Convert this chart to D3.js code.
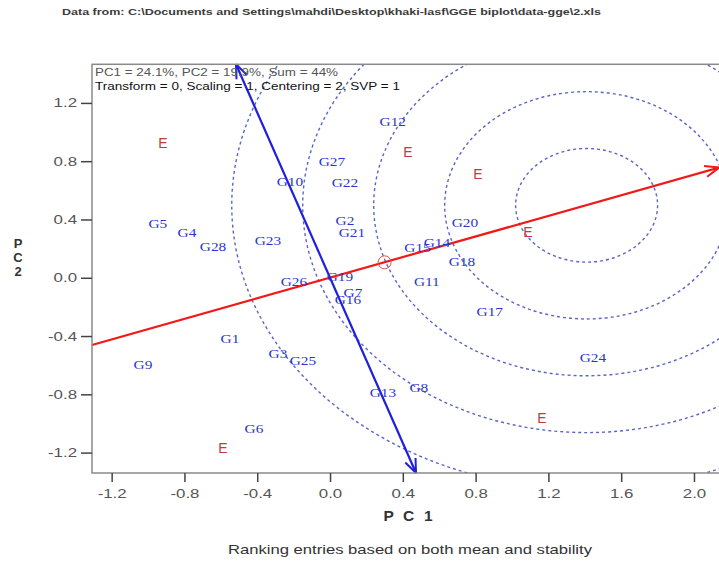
<!DOCTYPE html>
<html><head><meta charset="utf-8">
<script src="https://cdn.jsdelivr.net/npm/d3@7/dist/d3.min.js"></script>
<style>body{margin:0;background:#fff} svg{display:block}</style>
</head><body>
<script>
// ---- data ----
const genotypes = ["G1","G2","G3","G4","G5","G6","G7","G8","G9","G10","G11","G12","G13","G14","G15","G16","G17","G18","G19","G20","G21","G22","G23","G24","G25","G26","G27","G28"];
const genoX = [-0.550,0.082,-0.286,-0.786,-0.946,-0.418,0.126,0.488,-1.028,-0.220,0.532,0.345,0.291,0.587,0.481,0.098,0.878,0.725,0.054,0.741,0.120,0.082,-0.341,1.445,-0.149,-0.198,0.010,-0.643];
const genoY = [-0.421,0.389,-0.524,0.307,0.369,-1.038,-0.105,-0.757,-0.599,0.657,-0.030,1.069,-0.791,0.238,0.204,-0.153,-0.235,0.108,0.005,0.375,0.307,0.650,0.252,-0.551,-0.572,-0.029,0.794,0.211];
const envLabels = ["E","E","E","E","E","E"];
const envX = [-0.918,0.428,0.813,1.087,1.164,-0.588];
const envY = [0.925,0.863,0.712,0.314,-0.963,-1.168];
const xTicks = [-1.2,-0.8,-0.4,0.0,0.4,0.8,1.2,1.6,2.0];
const yTicks = [-1.2,-0.8,-0.4,0.0,0.4,0.8,1.2];
const aecSlope = 0.3527;          // average-environment axis (PC2/PC1)
const avgEnvX = 0.30;             // average environment marker on the AEC
const idealX = 1.41;              // ideal entry on the AEC (centre of circles)
const circleRadii = [0.39,0.78,1.17,1.56,1.95];
const xDomain = [-1.308, 2.143];
const yDomain = [-1.34, 1.465];
const titleText = "Data from: C:\\Documents and Settings\\mahdi\\Desktop\\khaki-lasf\\GGE biplot\\data-gge\\2.xls";
const infoLines = ["PC1 = 24.1%, PC2 = 19.9%, Sum = 44%", "Transform = 0, Scaling = 1, Centering = 2, SVP = 1"];
const xLabel = "P C 1";
const yLabelChars = ["P","C","2"];
const subtitle = "Ranking entries based on both mean and stability";

// ---- layout ----
const W = 719, H = 561;
const L = 92, R = 720, T = 64.3, B = 473;
const svg = d3.select("body").append("svg").attr("width", W).attr("height", H);
const x = d3.scaleLinear().domain(xDomain).range([L, R]);
const y = d3.scaleLinear().domain(yDomain).range([B, T]);
const font = "'Liberation Sans', Arial, sans-serif";
const stretch = 1.35;   // the original picture is widened horizontally

svg.append("defs").append("clipPath").attr("id","clip")
  .append("rect").attr("x",L).attr("y",T).attr("width",R-L).attr("height",B-T);

// title
svg.append("text").attr("x",62).attr("y",15).attr("font-family",font).attr("font-size",9.5)
  .attr("font-weight","bold").attr("fill","#3a3a3a")
  .attr("textLength",539).attr("lengthAdjust","spacingAndGlyphs").text(titleText);

const plot = svg.append("g").attr("clip-path","url(#clip)");

// concentric circles
const cy0 = idealX*aecSlope;
plot.selectAll("ellipse.c").data(circleRadii).join("ellipse")
  .attr("cx", x(idealX)).attr("cy", y(cy0))
  .attr("rx", d => x(d)-x(0)).attr("ry", d => y(0)-y(d))
  .attr("fill","none").attr("stroke","#5a66c6").attr("stroke-width",1.4)
  .attr("stroke-dasharray","3,3");

// arrow helper
function arrow(g, x1, y1, x2, y2, color, heads) {
  g.append("line").attr("x1",x1).attr("y1",y1).attr("x2",x2).attr("y2",y2)
    .attr("stroke",color).attr("stroke-width",2.2);
  heads.forEach(([tx,ty,fx,fy]) => {
    const a = Math.atan2(ty-fy, tx-fx);
    const len = 15, sp = 0.38;
    [a+Math.PI-sp, a+Math.PI+sp].forEach(b => {
      g.append("line").attr("x1",tx).attr("y1",ty)
        .attr("x2",tx+len*Math.cos(b)).attr("y2",ty+len*Math.sin(b))
        .attr("stroke",color).attr("stroke-width",2);
    });
  });
}
// AEC abscissa (red)
const ax1 = x(xDomain[0]), ay1 = y(xDomain[0]*aecSlope);
const ax2 = x(xDomain[1]), ay2 = y(xDomain[1]*aecSlope);
arrow(svg, ax1, ay1, ax2-1, ay2, "#f01818", [[ax2-1, ay2, ax1, ay1]]);
// AEC ordinate (blue)
const bx1 = x(-aecSlope*yDomain[1]), by1 = y(yDomain[1]);
const bx2 = x(-aecSlope*yDomain[0]), by2 = y(yDomain[0]);
arrow(svg, bx1, by1, bx2, by2, "#1f1fe0", [[bx1,by1,bx2,by2],[bx2,by2,bx1,by1]]);

// average environment marker
svg.append("circle").attr("cx",x(avgEnvX)).attr("cy",y(avgEnvX*aecSlope)).attr("r",6.5)
  .attr("fill","none").attr("stroke","#e05050").attr("stroke-width",1);

// genotype labels
svg.selectAll("text.g").data(genotypes).join("text")
  .attr("transform",(d,i)=>`translate(${x(genoX[i])},${y(genoY[i])}) scale(1.28,1)`)
  .attr("dy","0.35em").attr("text-anchor","middle")
  .attr("font-family","'Liberation Serif', 'Times New Roman', serif").attr("font-size",12)
  .attr("fill","#2b36cc").text(d=>d);

// environment labels
svg.selectAll("text.e").data(envLabels).join("text")
  .attr("x",(d,i)=>x(envX[i])).attr("y",(d,i)=>y(envY[i]))
  .attr("dy","0.35em").attr("text-anchor","middle")
  .attr("font-family",font).attr("font-size",14)
  .attr("fill","#c03a3a").text(d=>d);

// frame
svg.append("rect").attr("x",L).attr("y",T).attr("width",R-L).attr("height",B-T)
  .attr("fill","none").attr("stroke","#8a8a8a").attr("stroke-width",1.5);

// info text
svg.append("text").attr("x",95).attr("y",76).attr("font-family",font).attr("font-size",11)
  .attr("fill","#555").attr("textLength",243).attr("lengthAdjust","spacingAndGlyphs").text(infoLines[0]);
svg.append("text").attr("x",95).attr("y",90).attr("font-family",font).attr("font-size",11)
  .attr("fill","#111").attr("textLength",305).attr("lengthAdjust","spacingAndGlyphs").text(infoLines[1]);

// axes
const fmt = d => d3.format(".1f")(d).replace("\u2212","-");
const xAxis = d3.axisBottom(x).tickValues(xTicks).tickFormat(fmt).tickSize(9).tickPadding(7);
const gx = svg.append("g").attr("transform",`translate(0,${B})`).call(xAxis);
const yAxis = d3.axisLeft(y).tickValues(yTicks).tickFormat(fmt).tickSize(11).tickPadding(4);
const gy = svg.append("g").attr("transform",`translate(${L},0)`).call(yAxis);
[gx,gy].forEach(g => {
  g.select(".domain").remove();
  g.selectAll(".tick line").attr("stroke","#444").attr("stroke-width",1.5);
  g.selectAll(".tick text").attr("font-family",font).attr("font-size",12.5).attr("fill","#555");
});
gx.selectAll(".tick text").attr("transform",`scale(${stretch},1)`);
gy.selectAll(".tick text").attr("x",-15/stretch).attr("transform",`scale(${stretch},1)`);

// axis titles
svg.append("text").attr("x",408).attr("y",521).attr("text-anchor","middle")
  .attr("font-family",font).attr("font-size",15.5).attr("font-weight","bold").attr("fill","#333")
  .attr("textLength",49).attr("lengthAdjust","spacing").text(xLabel);
svg.selectAll("text.yl").data(yLabelChars).join("text")
  .attr("x",18).attr("y",(d,i)=>248+i*14).attr("text-anchor","middle")
  .attr("font-family",font).attr("font-size",13).attr("font-weight","bold").attr("fill","#333").text(d=>d);

// subtitle
svg.append("text").attr("x",410).attr("y",554).attr("text-anchor","middle")
  .attr("font-family",font).attr("font-size",13).attr("fill","#333")
  .attr("textLength",364).attr("lengthAdjust","spacingAndGlyphs").text(subtitle);
</script>
</body></html>
